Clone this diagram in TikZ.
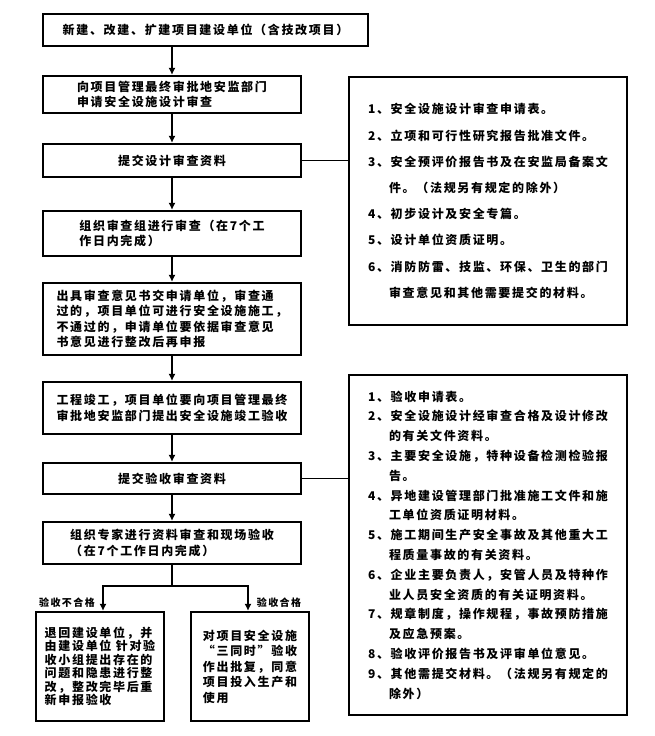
\documentclass[tikz,border=0pt]{standalone}
\usepackage{fontspec}
\IfFontExistsTF{Noto Sans CJK SC Black}
  {\setmainfont{Noto Sans CJK SC Black}[LetterSpace=14]}
  {\setmainfont{Noto Sans CJK SC Bold}[LetterSpace=15]}
\usetikzlibrary{arrows.meta}
\tikzset{
  main node/.style={draw,line width=2.2pt,inner sep=2pt,align=left,
    minimum width=258pt,font=\fontsize{12}{15.5}\selectfont},
  list node/.style={main node,minimum width=278pt},
  end node/.style={main node,minimum height=109pt},
  tag node/.style={inner sep=0pt,font=\fontsize{10}{12}\selectfont}
}

\begin{document}
\begin{tikzpicture}[x=1pt,y=-1pt,->,>={Latex[length=7pt,width=7pt]},line width=1.8pt]
  \useasboundingbox (0,0) rectangle (655,736);
  % main steps
  \node [main node,minimum width=325pt,minimum height=32pt] (1) at (205.5,30)
    {新建、改建、扩建项目建设单位（含技改项目）};
  \node [main node,minimum height=37pt] (2) at (172,94.5)
    {向项目管理最终审批地安监部门\\申请安全设施设计审查};
  \node [main node,minimum height=33pt] (3) at (172,160.5) {提交设计审查资料};
  \node [main node,minimum height=45pt] (4) at (172,233.5)
    {组织审查组进行审查（在7个工\\作日内完成）};
  \node [main node,minimum height=72pt] (5) at (172,319)
    {出具审查意见书交申请单位，审查通\\过的，项目单位可进行安全设施施工，\\
     不通过的，申请单位要依据审查意见\\书意见进行整改后再申报};
  \node [main node,minimum height=52pt] (6) at (172,408)
    {工程竣工，项目单位要向项目管理最终\\审批地安监部门提出安全设施竣工验收};
  \node [main node,minimum height=31pt] (7) at (172,478.5) {提交验收审查资料};
  \node [main node,minimum height=42pt] (8) at (172,543)
    {组织专家进行资料审查和现场验收\\（在7个工作日内完成）};
  % results
  \node [end node,minimum width=128pt,font=\fontsize{12}{13.5}\selectfont] (9) at (100,666.5)
    {退回建设单位，并\\由建设单位 针对验\\收小组提出存在的\\问题和隐患进行整\\改，整改完毕后重\\新申报验收};
  \node [end node,minimum width=118pt] (10) at (250,666.5)
    {对项目安全设施\\“三同时”验收\\作出批复，同意\\项目投入生产和\\使用};
  \node [tag node] (t9) at (67,603) {验收不合格};
  \node [tag node] (t10) at (279,603) {验收合格};
  % document lists
  \node [list node,minimum height=248pt,font=\fontsize{12}{26.2}\selectfont] (11) at (488,201)
    {1、安全设施设计审查申请表。\\
     2、立项和可行性研究报告批准文件。\\
     3、安全预评价报告书及在安监局备案文\\
     \hphantom{3、}件。（法规另有规定的除外）\\
     4、初步设计及安全专篇。\\
     5、设计单位资质证明。\\
     6、消防防雷、技监、环保、卫生的部门\\
     \hphantom{6、}审查意见和其他需要提交的材料。};
  \node [list node,minimum height=340pt,font=\fontsize{12}{19.8}\selectfont] (12) at (488,545)
    {1、验收申请表。\\
     2、安全设施设计经审查合格及设计修改\\
     \hphantom{2、}的有关文件资料。\\
     3、主要安全设施，特种设备检测检验报\\
     \hphantom{3、}告。\\
     4、异地建设管理部门批准施工文件和施\\
     \hphantom{4、}工单位资质证明材料。\\
     5、施工期间生产安全事故及其他重大工\\
     \hphantom{5、}程质量事故的有关资料。\\
     6、企业主要负责人，安管人员及特种作\\
     \hphantom{6、}业人员安全资质的有关证明资料。\\
     7、规章制度，操作规程，事故预防措施\\
     \hphantom{7、}及应急预案。\\
     8、验收评价报告书及评审单位意见。\\
     9、其他需提交材料。（法规另有规定的\\
     \hphantom{9、}除外）};
  % arrows
  \draw (2.north |- 1.south) -- (2);
  \foreach \a/\b in {2/3,3/4,4/5,5/6,6/7,7/8}
    \draw (\a) -- (\b);
  \draw [-] (8.south) -- ++(0,21) coordinate (split);
  \draw (split) -| ([xshift=3pt]9.north);
  \draw (split) -| ([xshift=-2pt]10.north);
  \draw [-] (3.east) -- (3.east -| 11.west);
  \draw [-] (7.east) -- (7.east -| 12.west);
\end{tikzpicture}
\end{document}
